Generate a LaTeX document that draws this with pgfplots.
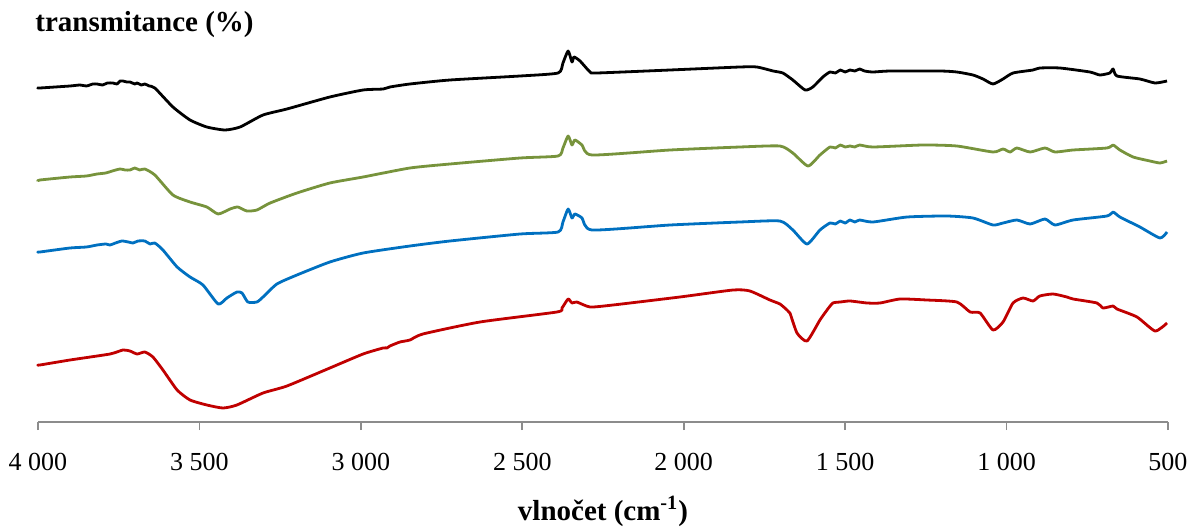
\documentclass[border=0pt]{standalone}
\usepackage{fontspec}
\setmainfont{Liberation Serif}
\usepackage{pgfplots}
\pgfplotsset{compat=1.18}
\definecolor{axgray}{HTML}{8C8C8C}
\definecolor{cgreen}{HTML}{77933C}
\definecolor{cblue}{HTML}{0070C0}
\definecolor{cred}{HTML}{C00000}
\begin{document}
\begin{tikzpicture}
\begin{axis}[
  scale only axis, width=565pt, height=191pt,
  xmin=500, xmax=4000, x dir=reverse,
  ymin=0, ymax=382,
  axis x line*=bottom, axis y line=none,
  x axis line style={color=axgray, line width=0.8pt},
  xtick={500,1000,1500,2000,2500,3000,3500,4000},
  xticklabels={500,1 000,1 500,2 000,2 500,3 000,3 500,4 000},
  tick align=outside, major tick length=4pt,
  xtick style={color=axgray, line width=0.8pt},
  tick label style={font=\fontsize{13}{15}\selectfont, text=black},
  xticklabel style={yshift=-8pt, inner xsep=0pt},
  xlabel={\textbf{vlnočet (cm\textsuperscript{-1})}},
  xlabel style={at={(axis description cs:0.5,0)}, anchor=north, inner sep=0pt, yshift=-37pt, font=\fontsize{14.5}{17}\selectfont},
  every axis plot/.append style={line width=1.4pt, smooth, tension=0.35, line join=round, no marks},
  clip=false,
]
\node[anchor=south west, inner sep=0pt, font=\fontsize{14.5}{17}\selectfont\bfseries, xshift=-1.5pt, yshift=1.0pt] at (rel axis cs:0,1) {transmitance (\%)};
% black
\addplot[black] coordinates {
(4000,334) (3994,334) (3901,336) (3870,337) (3850,336) (3830,338) (3817,338) (3800,337)
(3785,339) (3768,339) (3755,338) (3746,341) (3737,341) (3725,340) (3715,340) (3700,338)
(3693,339) (3680,337) (3669,338) (3655,336) (3638,334) (3582,315) (3529,302) (3477,295)
(3421,292) (3374,295) (3303,307) (3229,313) (3096,325) (2993,332) (2931,333) (2910,335)
(2848,338) (2724,342) (2507,346) (2389,349) (2374,359) (2358,371) (2346,360) (2340,365)
(2321,361) (2290,350) (2269,349) (2042,352) (1826,355) (1773,355) (1723,351) (1693,349)
(1662,342) (1624,332) (1600,335) (1569,345) (1547,350) (1530,349) (1515,352) (1500,350)
(1485,352) (1470,351) (1455,353) (1440,351) (1414,350) (1361,351) (1206,351) (1154,350)
(1104,347) (1073,343) (1042,338) (1011,343) (980,349) (918,352) (897,354) (835,354)
(742,350) (711,347) (680,349) (670,353) (658,346) (587,343) (540,339) (503,341)
};
% green
\addplot[cgreen] coordinates {
(4000,241) (3994,242) (3901,245) (3850,246) (3817,248) (3790,249) (3770,251) (3746,253)
(3730,252) (3715,252) (3700,254) (3685,252) (3669,253) (3638,247) (3582,227) (3529,220)
(3477,215) (3442,208) (3405,213) (3381,215) (3353,211) (3322,212) (3281,219) (3198,229)
(3096,239) (2993,245) (2848,254) (2724,258) (2507,264) (2389,266) (2374,274) (2358,286)
(2346,277) (2337,282) (2315,277) (2284,267) (2042,272) (1826,275) (1702,276) (1662,269)
(1615,256) (1578,267) (1547,275) (1530,274) (1515,277) (1500,275) (1485,276) (1470,275)
(1455,277) (1414,275) (1259,277) (1154,276) (1042,270) (1011,273) (989,270) (968,274)
(927,270) (881,274) (850,270) (794,272) (689,274) (670,277) (649,272) (608,265) (556,261)
(525,259) (503,261)
};
% blue
\addplot[cblue] coordinates {
(4000,170) (3994,170) (3901,174) (3850,175) (3817,177) (3790,178) (3777,177) (3760,179)
(3740,181) (3720,180) (3706,179) (3690,181) (3669,181) (3653,178) (3638,179) (3613,172)
(3569,155) (3529,145) (3489,137) (3442,118) (3415,124) (3384,130) (3368,129) (3350,120)
(3322,120) (3303,125) (3260,138) (3198,147) (3096,160) (2993,169) (2848,176) (2724,181)
(2507,188) (2389,190) (2374,200) (2358,213) (2346,204) (2337,208) (2315,204) (2284,192)
(2042,197) (1826,200) (1702,201) (1662,192) (1618,178) (1578,192) (1547,199) (1530,198)
(1515,201) (1500,199) (1485,202) (1470,200) (1455,202) (1414,200) (1308,205) (1185,206)
(1104,204) (1042,197) (1011,199) (968,202) (927,198) (881,203) (850,197) (794,202)
(689,206) (670,210) (649,205) (587,195) (525,184) (503,190)
};
% red
\addplot[cred] coordinates {
(4000,57) (3994,57) (3901,62) (3777,68) (3737,72) (3715,71) (3693,68) (3669,70) (3644,65)
(3613,52) (3569,32) (3529,22) (3477,17) (3427,14) (3384,17) (3303,29) (3229,36) (3096,54)
(2993,68) (2931,74) (2919,74) (2910,76) (2879,80) (2848,82) (2808,88) (2631,100) (2393,110)
(2377,114) (2358,123) (2346,119) (2331,120) (2290,115) (2219,117) (2012,125) (1847,132)
(1795,131) (1733,122) (1702,118) (1680,112) (1671,109) (1649,89) (1618,81) (1578,102)
(1556,112) (1538,119) (1515,120) (1485,121) (1432,119) (1392,119) (1330,123) (1247,122)
(1154,120) (1113,110) (1082,109) (1042,92) (1011,100) (980,119) (949,124) (918,121)
(897,126) (856,128) (813,125) (794,123) (720,119) (701,114) (670,116) (658,113) (596,105)
(540,91) (503,99)
};
\end{axis}
\path ([shift={(-19pt,-49pt)}]current axis.south west) rectangle ([shift={(11.5pt,20pt)}]current axis.north east);
\end{tikzpicture}
\end{document}
